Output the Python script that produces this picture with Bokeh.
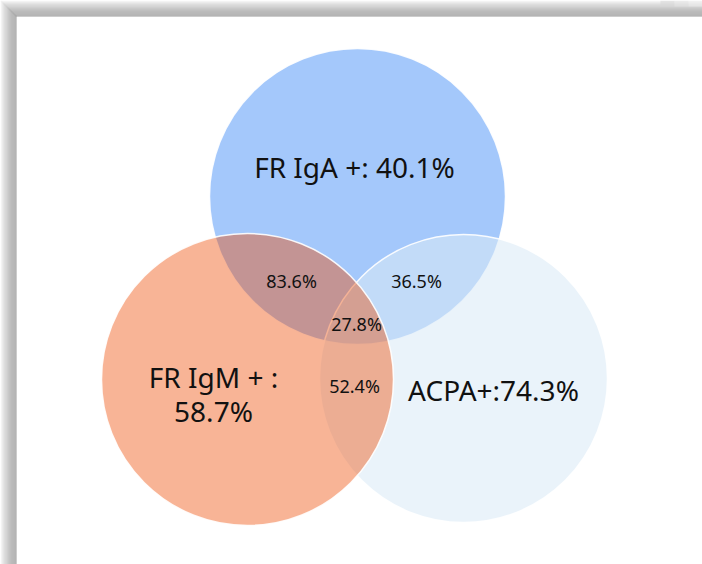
from bokeh.plotting import figure
from bokeh.models import Range1d
from bokeh.embed import file_html
from bokeh.resources import INLINE
from bokeh.core.properties import value

# Sets (circles) of the Venn diagram
set_names = ["FR IgA +: 40.1%", "ACPA+:74.3%", "FR IgM + :\n58.7%"]
set_cx = [357, 463, 247]
set_cy = [196, 378, 379]
set_r = [148, 144, 146]
set_colors = ["#A4C8FB", "#DAEAF6", "#EE4C05"]
set_alpha = [1.0, 0.56, 0.42]

# Overlap labels
overlap_labels = ["83.6%", "36.5%", "27.8%", "52.4%"]
overlap_x = [291, 416, 356, 354]
overlap_y = [280, 280, 323, 385]

# Main labels
main_labels = ["FR IgA +: 40.1%", "FR IgM + :", "58.7%", "ACPA+:74.3%"]
main_x = [354, 213, 213, 493]
main_y = [166, 376, 410, 389]

W, H = 702, 564
p = figure(width=W, height=H, output_backend="svg", toolbar_location=None,
           x_range=Range1d(0, W), y_range=Range1d(H, 0),
           min_border=0, background_fill_color="white", border_fill_color="white")
p.axis.visible = False
p.grid.visible = False
p.outline_line_color = None

# Shadow frame (top and left)
shades = ["#f6f6f6", "#ececec", "#e2e2e2", "#d8d8d8", "#d0d0d0", "#cacaca", "#c4c4c4",
          "#bcbcbc", "#b4b4b4", "#adadad", "#a8a8a8", "#a4a4a4", "#a2a2a2", "#a0a0a0",
          "#9e9e9e", "#9a9a9a"]
for i, c in enumerate(shades):
    p.quad(left=i, right=i + 1, top=i, bottom=H, fill_color=c, line_color=None)
    p.quad(left=i, right=W, top=i, bottom=i + 1, fill_color=c, line_color=None)
# lighter fade of top band towards the right end
fade = ["#d8d8d8", "#e4e4e4", "#eeeeee"]
for j, c in enumerate(fade):
    p.quad(left=660 + j * 14, right=674 + j * 14, top=0, bottom=6, fill_color=c,
           line_color=None, fill_alpha=0.6)

for cx, cy, r, c, a in zip(set_cx, set_cy, set_r, set_colors, set_alpha):
    p.circle(x=[cx], y=[cy], radius=r, fill_color=c, fill_alpha=a,
             line_color="white", line_width=1.5, line_alpha=0.9)

p.text(x=main_x, y=main_y, text=main_labels, text_align="center", text_baseline="middle",
       text_font=value("Noto Sans"), text_font_size="28px", text_color="#111111")
p.text(x=overlap_x, y=overlap_y, text=overlap_labels, text_align="center", text_baseline="middle",
       text_font=value("Noto Sans"), text_font_size="18px", text_color="#111111")

open("out.html", "w").write(file_html(p, INLINE))
